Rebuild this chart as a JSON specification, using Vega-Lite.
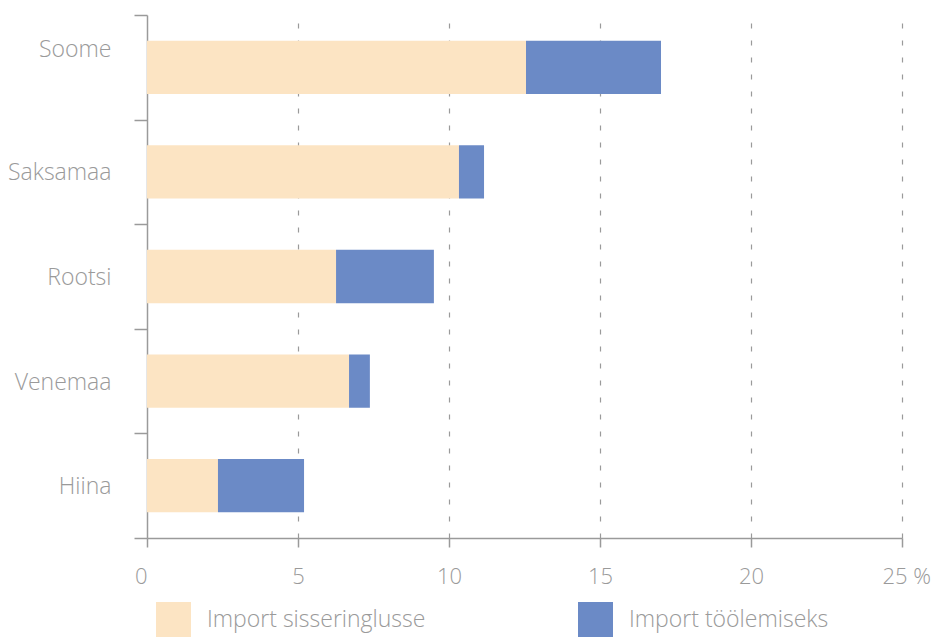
{
  "$schema": "https://vega.github.io/schema/vega-lite/v6.json",
  "width": 755,
  "height": 523,
  "autosize": "none",
  "padding": {"left": 147, "top": 15, "right": 46, "bottom": 100},
  "config": {
    "view": {"stroke": null},
    "font": "Open Sans",
    "axis": {"labelFont": "Open Sans", "labelFontWeight": 300}
  },
  "data": {
    "values": [
      {"riik": "Soome", "tyyp": "Import sisseringlusse", "osakaal": 12.55},
      {"riik": "Soome", "tyyp": "Import töölemiseks", "osakaal": 4.47},
      {"riik": "Saksamaa", "tyyp": "Import sisseringlusse", "osakaal": 10.33},
      {"riik": "Saksamaa", "tyyp": "Import töölemiseks", "osakaal": 0.83},
      {"riik": "Rootsi", "tyyp": "Import sisseringlusse", "osakaal": 6.26},
      {"riik": "Rootsi", "tyyp": "Import töölemiseks", "osakaal": 3.24},
      {"riik": "Venemaa", "tyyp": "Import sisseringlusse", "osakaal": 6.69},
      {"riik": "Venemaa", "tyyp": "Import töölemiseks", "osakaal": 0.69},
      {"riik": "Hiina", "tyyp": "Import sisseringlusse", "osakaal": 2.35},
      {"riik": "Hiina", "tyyp": "Import töölemiseks", "osakaal": 2.85}
    ]
  },
  "mark": {"type": "bar", "height": {"band": 0.51}},
  "encoding": {
    "y": {
      "field": "riik",
      "type": "nominal",
      "sort": ["Soome", "Saksamaa", "Rootsi", "Venemaa", "Hiina"],
      "scale": {"paddingInner": 0, "paddingOuter": 0},
      "axis": {
        "title": null,
        "domainColor": "#9a9a9a",
        "domainWidth": 1.5,
        "tickColor": "#9a9a9a",
        "tickWidth": 1.5,
        "tickSize": 13,
        "tickBand": "extent",
        "labelFontSize": 23,
        "labelColor": "#9a9a9a",
        "labelPadding": 23,
        "labelOffset": {"condition": {"test": "datum.value === 'Soome'", "value": -18}, "value": 1}
      }
    },
    "x": {
      "field": "osakaal",
      "type": "quantitative",
      "stack": "zero",
      "scale": {"domain": [0, 25], "nice": false},
      "axis": {
        "title": null,
        "values": [0, 5, 10, 15, 20, 25],
        "labelExpr": "datum.value == 25 ? '25 %' : datum.label",
        "labelFlush": false,
        "labelAlign": {"condition": [{"test": "datum.value === 0", "value": "right"}, {"test": "datum.value === 25", "value": "left"}], "value": "center"},
        "labelOffset": {"condition": {"test": "datum.value === 25", "value": -20}, "value": 0},
        "domainColor": "#9a9a9a",
        "domainWidth": 1.5,
        "tickColor": "#9a9a9a",
        "tickWidth": 1.5,
        "tickSize": 9,
        "labelFontSize": 22,
        "labelColor": "#9a9a9a",
        "labelPadding": 19,
        "grid": true,
        "gridColor": "#9a9a9a",
        "gridWidth": 1.2,
        "gridDash": [5, 12],
        "gridOpacity": {"condition": {"test": "datum.value === 0", "value": 0}, "value": 1}
      }
    },
    "color": {
      "field": "tyyp",
      "type": "nominal",
      "scale": {
        "domain": ["Import sisseringlusse", "Import töölemiseks"],
        "range": ["#FCE4C3", "#6B8AC6"]
      },
      "legend": {
        "title": null,
        "orient": "none",
        "direction": "horizontal",
        "legendX": 9,
        "legendY": 587,
        "padding": 0,
        "symbolType": "square",
        "symbolSize": 1225,
        "symbolStrokeWidth": 0,
        "symbolOpacity": 1,
        "labelFontSize": 23,
        "labelFont": "Open Sans",
        "labelFontWeight": 300,
        "labelColor": "#9a9a9a",
        "labelOffset": 16,
        "columnPadding": 152,
        "labelLimit": 400
      }
    },
    "order": {"field": "tyyp", "sort": "ascending"}
  }
}
